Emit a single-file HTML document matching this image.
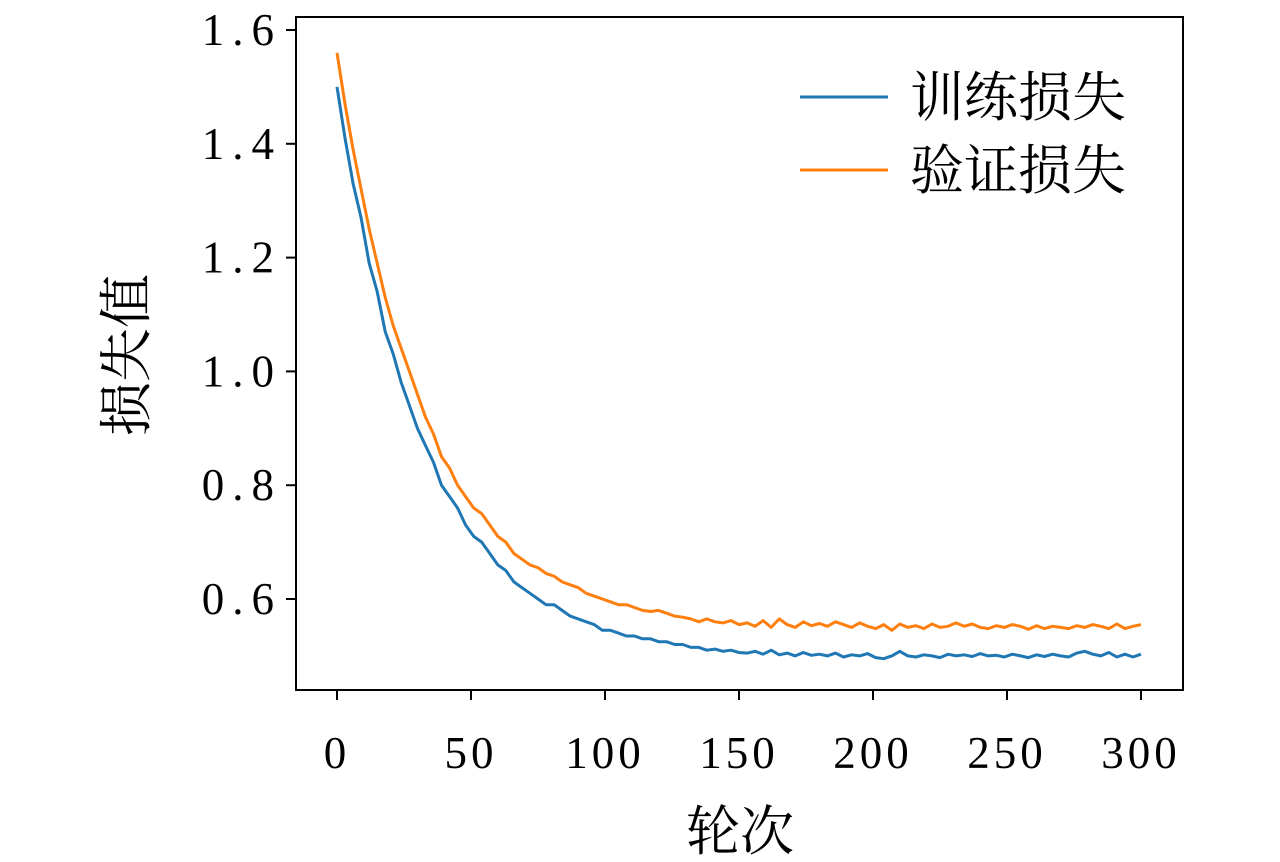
<!DOCTYPE html>
<html><head><meta charset="utf-8"><style>
html,body{margin:0;padding:0;background:#fff;}
svg{display:block;}
</style></head><body>
<svg id="chart" width="1280" height="862" xmlns="http://www.w3.org/2000/svg"></svg>
<script>
const epochs = [];
for (let e = 0; e <= 300; e += 3) epochs.push(e);
const trainLoss = [1.50,1.41,1.33,1.27,1.19,1.14,1.07,1.03,0.98,0.94,0.90,
0.87,0.84,0.80,0.78,0.76,0.73,0.71,0.70,0.68,0.66,
0.65,0.63,0.62,0.61,0.60,0.59,0.59,0.58,0.57,0.565,
0.56,0.555,0.545,0.545,0.54,0.535,0.535,0.53,0.53,0.525,
0.525,0.52,0.52,0.515,0.515,0.51,0.512,0.508,0.51,0.506,
0.505,0.508,0.503,0.51,0.502,0.505,0.50,0.506,0.501,0.503,
0.50,0.505,0.498,0.502,0.50,0.504,0.497,0.495,0.50,0.508,
0.50,0.498,0.502,0.50,0.497,0.503,0.50,0.502,0.499,0.504,
0.50,0.501,0.498,0.503,0.50,0.497,0.502,0.499,0.503,0.50,
0.498,0.505,0.508,0.503,0.50,0.506,0.498,0.503,0.498,0.503];
const valLoss = [1.56,1.47,1.39,1.32,1.25,1.19,1.13,1.08,1.04,1.00,0.96,
0.92,0.89,0.85,0.83,0.80,0.78,0.76,0.75,0.73,0.71,
0.70,0.68,0.67,0.66,0.655,0.645,0.64,0.63,0.625,0.62,
0.61,0.605,0.60,0.595,0.59,0.59,0.585,0.58,0.578,0.58,
0.575,0.57,0.568,0.565,0.56,0.565,0.56,0.558,0.562,0.555,
0.558,0.552,0.562,0.55,0.565,0.555,0.55,0.56,0.553,0.557,
0.552,0.56,0.555,0.55,0.558,0.552,0.548,0.555,0.545,0.556,
0.55,0.553,0.548,0.556,0.55,0.552,0.558,0.552,0.556,0.55,
0.548,0.553,0.55,0.555,0.552,0.547,0.553,0.548,0.552,0.55,
0.548,0.553,0.55,0.555,0.552,0.548,0.556,0.548,0.552,0.555];
const xTicks = [0,50,100,150,200,250,300];
const yTicks = [0.6,0.8,1.0,1.2,1.4,1.6];
const yTickLabels = ["0.6","0.8","1.0","1.2","1.4","1.6"];

const NS = "http://www.w3.org/2000/svg";
const svg = document.getElementById("chart");
const L=296,R=1183,T=17,B=690;
const xs = v => 337 + (v-0)*(1141-337)/300;
const ys = v => 599 - (v-0.6)*(599-30)/1.0;
function mk(tag, attrs, parent){const el=document.createElementNS(NS,tag);for(const k in attrs)el.setAttribute(k,attrs[k]);(parent||svg).appendChild(el);return el;}
const serif='"Liberation Serif", "DejaVu Serif", serif';
const cjk='"Liberation Serif", "Noto Serif CJK SC", "Noto Sans CJK SC", serif';

function series(data, color, name){
  const d = data.map((v,i)=>(i?'L':'M')+xs(epochs[i]).toFixed(1)+' '+ys(v).toFixed(1)).join(' ');
  const p = mk('path',{d:d,fill:'none',stroke:color,'stroke-width':3,'stroke-linejoin':'round'});
  
  
}
series(valLoss,'#ff7f0e','validation-loss-line');
series(trainLoss,'#1f77b4','training-loss-line');

const frame = mk('rect',{x:L,y:T,width:R-L,height:B-T,fill:'none',stroke:'#000','stroke-width':2});



xTicks.forEach(t=>{
  const tk = mk('line',{x1:xs(t),x2:xs(t),y1:B,y2:B+10,stroke:'#000','stroke-width':2});
  
  
  const lb = mk('text',{x:xs(t),y:768,'text-anchor':'middle','font-family':serif,'font-size':45,'letter-spacing':4});
  lb.textContent = String(t);
  
  
});
yTicks.forEach((t,i)=>{
  const tk = mk('line',{x1:L-10,x2:L,y1:ys(t),y2:ys(t),stroke:'#000','stroke-width':2});
  
  
  const lb = mk('text',{x:282,y:ys(t)+15,'text-anchor':'end','font-family':serif,'font-size':45,'letter-spacing':8});
  lb.textContent = yTickLabels[i];
  
  
});

const xt = mk('text',{x:740,y:850,'text-anchor':'middle','font-family':cjk,'font-size':54});
xt.textContent='轮次';


const yt = mk('text',{x:0,y:0,'text-anchor':'middle','font-family':cjk,'font-size':54,transform:'translate(145,355) rotate(-90)'});
yt.textContent='损失值';



[['训练损失','#1f77b4',97],['验证损失','#ff7f0e',170]].forEach(([txt,c,y])=>{
  const g = mk('g',{});
  
  
  mk('line',{x1:800,x2:888,y1:y,y2:y,stroke:c,'stroke-width':3},g);
  const t = mk('text',{x:910,y:y+19,'font-family':cjk,'font-size':54},g);
  t.textContent = txt;
});
</script>
</body></html>
